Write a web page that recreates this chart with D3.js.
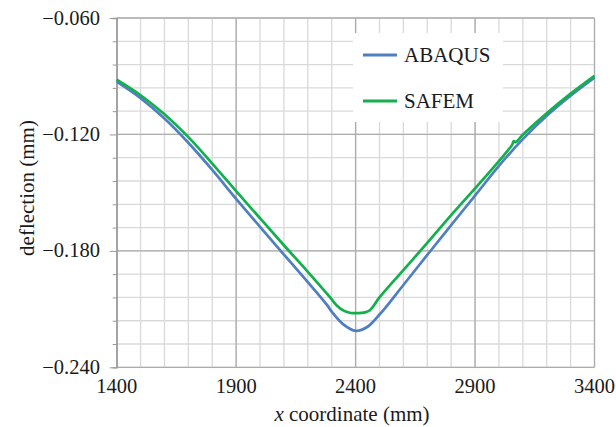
<!DOCTYPE html>
<html>
<head>
<meta charset="utf-8">
<script src="https://cdn.jsdelivr.net/npm/d3@7"></script>
<style>
  body { margin: 0; background: #fff; }
  text { font-family: "Liberation Serif", "Times New Roman", serif; fill: #1a1a1a; }
</style>
</head>
<body>
<div id="chart"></div>
<script>
// Data
const abaqusX = [1400, 1500, 1600, 1700, 1800, 1900, 2000, 2100, 2200, 2280, 2300, 2350, 2400,
                 2450, 2500, 2520, 2600, 2700, 2800, 2900, 3000, 3100, 3200, 3300, 3400];
const abaqusY = [-0.0928, -0.1013, -0.1118, -0.1243, -0.1383, -0.1532, -0.1676, -0.1819, -0.1961,
                 -0.2078, -0.2113, -0.2180, -0.2212, -0.2191, -0.2128, -0.2100, -0.1976, -0.1821,
                 -0.1667, -0.1515, -0.1362, -0.1224, -0.1104, -0.1000, -0.0907];

const safemX = [1400, 1500, 1600, 1700, 1800, 1900, 2000, 2100, 2200, 2290, 2320, 2350, 2380, 2400,
                2440, 2460, 2500, 2600, 2700, 2800, 2900, 3000, 3055, 3062, 3070, 3100, 3200, 3300, 3400];
const safemY = [-0.0918, -0.0998, -0.1096, -0.1214, -0.1350, -0.1492, -0.1632, -0.1771, -0.1908,
                -0.2035, -0.2080, -0.2108, -0.2120, -0.2121, -0.2117, -0.2106, -0.2040, -0.1899,
                -0.1759, -0.1616, -0.1478, -0.1337, -0.1254, -0.1234, -0.1240, -0.1202, -0.1091,
                -0.0990, -0.0898];

const seriesNames = ["ABAQUS", "SAFEM"];
const seriesColors = ["#4f7fc1", "#12b04c"];
const xTicks = [1400, 1900, 2400, 2900, 3400];
const yTicks = [-0.060, -0.120, -0.180, -0.240];

// Set dimensions and margins
const width = 616;
const height = 427;
const margin = { top: 18, right: 21.5, bottom: 59.7, left: 116.7 };

const svg = d3.select("#chart").append("svg")
    .attr("width", width)
    .attr("height", height);

const x = d3.scaleLinear().domain([1400, 3400]).range([margin.left, width - margin.right]);
const y = d3.scaleLinear().domain([-0.240, -0.060]).range([height - margin.bottom, margin.top]);

// Minor grid
const xMinor = d3.range(1400, 3401, 100);
const yMinor = d3.range(0, 16).map(i => -0.240 + i * 0.012);

svg.append("g").selectAll("line")
    .data(xMinor)
    .enter().append("line")
    .attr("x1", d => x(d)).attr("x2", d => x(d))
    .attr("y1", y(-0.060)).attr("y2", y(-0.240))
    .attr("stroke", "#d9d9d9").attr("stroke-width", 1.3);

svg.append("g").selectAll("line")
    .data(yMinor)
    .enter().append("line")
    .attr("x1", x(1400)).attr("x2", x(3400))
    .attr("y1", d => y(d)).attr("y2", d => y(d))
    .attr("stroke", "#d9d9d9").attr("stroke-width", 1.3);

// Major grid
svg.append("g").selectAll("line")
    .data(xTicks)
    .enter().append("line")
    .attr("x1", d => x(d)).attr("x2", d => x(d))
    .attr("y1", y(-0.060)).attr("y2", y(-0.240))
    .attr("stroke", "#adadad").attr("stroke-width", 1.3);

svg.append("g").selectAll("line")
    .data(yTicks)
    .enter().append("line")
    .attr("x1", x(1400)).attr("x2", x(3400))
    .attr("y1", d => y(d)).attr("y2", d => y(d))
    .attr("stroke", "#adadad").attr("stroke-width", 1.3);

// Left axis with ticks
const yAxis = d3.axisLeft(y)
    .tickValues(yMinor)
    .tickSize(4)
    .tickFormat("");
const yAxisG = svg.append("g")
    .attr("transform", `translate(${margin.left},0)`)
    .call(yAxis);
yAxisG.select(".domain").attr("stroke", "#9a9a9a").attr("stroke-width", 1.3);
yAxisG.selectAll(".tick line").attr("stroke", "#9a9a9a").attr("x2", d => yTicks.some(t => Math.abs(t - d) < 1e-6) ? -7 : -4);

// Tick labels
const fmt = d => (d < 0 ? "\u2212" : "") + Math.abs(d).toFixed(3);
svg.append("g").selectAll("text")
    .data(yTicks)
    .enter().append("text")
    .attr("x", 100)
    .attr("y", d => y(d) + 6.5)
    .attr("text-anchor", "end")
    .style("font-size", "20.5px")
    .text(fmt);

svg.append("g").selectAll("text")
    .data(xTicks)
    .enter().append("text")
    .attr("x", d => x(d))
    .attr("y", 393)
    .attr("text-anchor", "middle")
    .style("font-size", "20.5px")
    .text(d => d);

// Axis titles
const xTitle = svg.append("text")
    .attr("x", 352)
    .attr("y", 421)
    .attr("text-anchor", "middle")
    .style("font-size", "21px");
xTitle.append("tspan").style("font-style", "italic").text("x");
xTitle.append("tspan").text(" coordinate (mm)");

svg.append("text")
    .attr("transform", "translate(34,188) rotate(-90)")
    .attr("text-anchor", "middle")
    .style("font-size", "21px")
    .text("deflection (mm)");

// Lines
const series = [
    abaqusX.map((d, i) => [d, abaqusY[i]]),
    safemX.map((d, i) => [d, safemY[i]])
];

const line = d3.line()
    .x(d => x(d[0]))
    .y(d => y(d[1]))
    .curve(d3.curveCatmullRom.alpha(0.5));

svg.append("g").selectAll("path")
    .data(series)
    .enter().append("path")
    .attr("d", line)
    .attr("fill", "none")
    .attr("stroke", (d, i) => seriesColors[i])
    .attr("stroke-width", 2.7)
    .attr("stroke-linejoin", "round");

// Legend
const legend = svg.append("g").attr("id", "legend");
legend.append("rect")
    .attr("x", 353).attr("y", 33)
    .attr("width", 150).attr("height", 89)
    .attr("fill", "#fff");

const legendItems = legend.selectAll(".legend-item")
    .data(seriesNames)
    .enter().append("g")
    .attr("class", "legend-item")
    .attr("transform", (d, i) => `translate(0, ${i * 46})`);

legendItems.append("line")
    .attr("x1", 363).attr("x2", 397)
    .attr("y1", 55).attr("y2", 55)
    .attr("stroke", (d, i) => seriesColors[i])
    .attr("stroke-width", 2.8);

legendItems.append("text")
    .attr("x", 404)
    .attr("y", 62)
    .style("font-size", "21px")
    .text(d => d);
</script>
</body>
</html>
